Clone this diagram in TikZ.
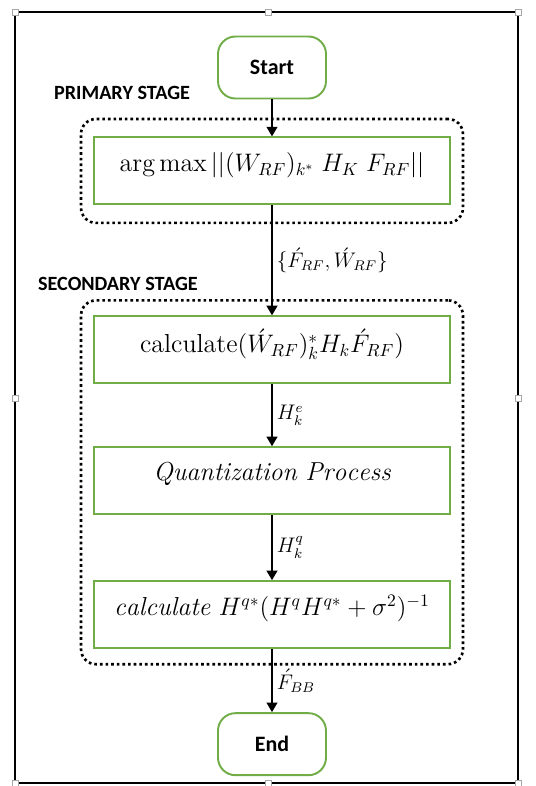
\documentclass[tikz,border=0pt]{standalone}
\usepackage{amsmath}
\usepackage{fontspec}
\newfontfamily\calibri{Carlito}
\usepackage{tikz}
\usetikzlibrary{arrows.meta, positioning, fit}
\definecolor{ofcgreen}{HTML}{70AD47}

\begin{document}
\begin{tikzpicture}[
  % ── Style definitions ──
  term/.style={
    rectangle, rounded corners=0.35cm,
    minimum width=2.16cm, minimum height=1.24cm,
    draw=ofcgreen, line width=1.1pt,
    font=\calibri\bfseries\fontsize{12.5}{14}\selectfont
  },
  proc/.style={
    rectangle, draw=ofcgreen, line width=1.1pt,
    minimum width=7.12cm, minimum height=1.34cm,
    text depth=0.36cm, font=\fontsize{14.8}{17}\selectfont
  },
  stagebox/.style={
    rectangle, rounded corners=0.3cm,
    draw=black, line width=1.5pt, dash pattern=on 1.5pt off 1.7pt,
    inner xsep=0.24cm
  },
  stagelbl/.style={font=\calibri\bfseries\fontsize{11.5}{13}\selectfont, inner sep=0pt},
  arr/.style  ={-{Triangle[length=5.5pt,width=6pt]}, line width=1.6pt},
  elbl/.style ={midway, right, font=\fontsize{11.5}{13}\selectfont, inner sep=2pt},
  handle/.style={draw=gray!70, fill=white, line width=0.4pt}
]
\useasboundingbox (0,0) rectangle (10.72,-15.72);

% ─────────── Outer frame ─────────────────────────────────────
\draw[line width=1.2pt] (0.30,-0.24) rectangle (10.36,-15.66);
\foreach \hx/\hy in {0.30/-0.24, 5.36/-0.24, 10.36/-0.24, 0.30/-7.96,
                     10.36/-7.96, 0.30/-15.66, 5.36/-15.66, 10.36/-15.66}
  \draw[handle] (\hx-0.06,\hy-0.06) rectangle ++(0.12,0.12);

% ─────────── Flow nodes ──────────────────────────────────────
\node[term] (start) at (5.44,-1.35) {Start};
\node[proc, below=0.74cm of start] (argmax)
  {$\arg\max||(W_{RF})_{k^*}\;H_K\;F_{RF}||$};
\node[proc, below=2.20cm of argmax] (calcw)
  {$\mathrm{calculate}(\acute{W}_{RF})^{*}_{k}H_k\acute{F}_{RF})$};
\node[proc, below=1.24cm of calcw] (quant)
  {$\mathit{Quantization\ Process}$};
\node[proc, below=1.30cm of quant] (mmse)
  {$\mathit{calculate}\ H^{q*}(H^{q}H^{q*}+\sigma^{2})^{-1}$};
\node[term, below=1.26cm of mmse] (fin) {End};

% ─────────── Stage frames ────────────────────────────────────
\node[stagebox, fit=(argmax), inner ysep=0.35cm] (prim) {};
\node[stagebox, fit=(calcw)(mmse), inner ysep=0.30cm] (sec) {};
\node[stagelbl, above right=0.36cm and -0.52cm of prim.north west] (primlbl) {PRIMARY STAGE};
\node[stagelbl, above right=0.16cm and -0.84cm of sec.north west] (seclbl) {SECONDARY STAGE};

% ─────────── Arrows ──────────────────────────────────────────
\draw[arr] (start)  -- (argmax);
\draw[arr] (argmax) -- (calcw) node[elbl] {$\{\acute{F}_{RF},\acute{W}_{RF}\}$};
\draw[arr] (calcw)  -- (quant) node[elbl] {$H_k^{e}$};
\draw[arr] (quant)  -- (mmse)  node[elbl] {$H_k^{q}$};
\draw[arr] (mmse)   -- (fin)   node[elbl] {$\acute{F}_{BB}$};
\end{tikzpicture}
\end{document}
